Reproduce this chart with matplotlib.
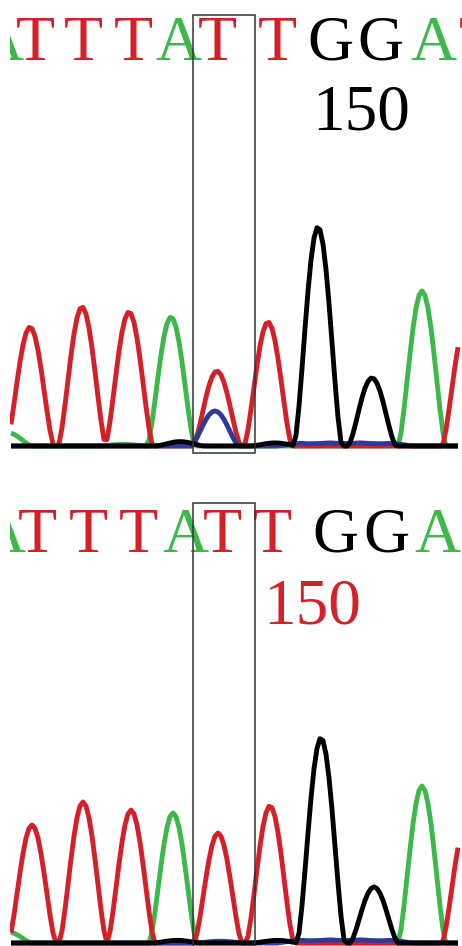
import numpy as np
import matplotlib
matplotlib.use("Agg")
import matplotlib.pyplot as plt
from matplotlib.patches import Rectangle
from matplotlib.transforms import blended_transform_factory

W, H, DPI = 462, 946, 100

RED, GREEN, BLUE, BLACK = "#d42128", "#3cb94a", "#2f3b98", "#000000"
BASE_COLORS = {"A": GREEN, "T": RED, "G": BLACK, "C": BLUE}

# ---------------- data ----------------
bases = ["A", "T", "T", "T", "A", "T", "T", "G", "G", "A", "T"]

# panel 1 (top)
top_call_x = [0, 35, 83, 133, 178, 217, 277, 330, 380, 433, 478]
top_red_x = [30, 82, 129, 217, 268, 466]
top_red_h = [543, 635, 612, 342, 566, 560]
top_green_x = [8, 123, 171, 422]
top_green_h = [60, 8, 589, 708]
top_blue_x = [215, 300, 330, 360, 390]
top_blue_h = [160, 12, 14, 14, 12]
top_black_x = [180, 275, 318, 372]
top_black_h = [20, 14, 1000, 311]
top_pos_label = "150"
top_pos_x = 361
top_pos_color = BLACK

# panel 2 (bottom)
bot_call_x = [2, 37, 88, 138, 185, 222, 272, 335, 386, 437, 480]
bot_red_x = [32, 83, 131, 218, 270, 466]
bot_red_h = [539, 644, 607, 502, 626, 540]
bot_green_x = [8, 173, 278, 422]
bot_green_h = [50, 594, 10, 717]
bot_blue_x = [220, 300, 330, 360, 390]
bot_blue_h = [8, 12, 14, 14, 12]
bot_black_x = [177, 277, 321, 374]
bot_black_h = [12, 12, 936, 256]
bot_pos_label = "150"
bot_pos_x = 312
bot_pos_color = RED

# highlighted base (scan range)
box_x0, box_x1 = 193, 255

# ---------------- drawing ----------------
HALF_W = 24.0
PX_PER_UNIT = 0.219
scan = np.arange(11, 460, 3.0)


def trace(xs, hs):
    y = np.zeros_like(scan)
    for x0, h in zip(xs, hs):
        d = np.abs(scan - x0)
        y += h * np.where(d < HALF_W,
                          np.abs(np.cos(np.pi * d / (2 * HALF_W))) ** 1.5, 0.0)
    return y


fig = plt.figure(figsize=(W / DPI, H / DPI), dpi=DPI)
fig.patch.set_facecolor("white")
serif = "Liberation Serif"


def panel(top_px, bottom_px, base_px, call_x, red, green, blue, black,
          pos_label, pos_x, pos_color, letter_base_px, label_base_px,
          box_top_px, box_bot_px):
    ax = fig.add_axes([10 / W, 1 - bottom_px / H, (W - 10) / W,
                       (bottom_px - top_px) / H])
    ax.set_xlim(10, W)
    y0 = -(bottom_px - base_px) / PX_PER_UNIT
    y1 = y0 + (bottom_px - top_px) / PX_PER_UNIT
    ax.set_ylim(y0, y1)
    ax.axis("off")

    def frac(px):
        return (bottom_px - px) / (bottom_px - top_px)

    tr = blended_transform_factory(ax.transData, ax.transAxes)
    lw = 3.5
    for (xs, hs), c in ((green, GREEN), (red, RED), (blue, BLUE), (black, BLACK)):
        ax.plot(scan, trace(xs, hs), color=c, lw=lw, solid_joinstyle="round",
                solid_capstyle="butt", zorder=2)

    for b, x in zip(bases, call_x):
        ax.text(x, frac(letter_base_px), b, transform=tr, ha="center",
                va="baseline", fontsize=46, family=serif,
                color=BASE_COLORS[b], clip_on=True)
    ax.text(pos_x, frac(label_base_px), pos_label, transform=tr, ha="center",
            va="baseline", fontsize=47, family=serif, color=pos_color)

    ax.add_patch(Rectangle((box_x0, frac(box_bot_px)), box_x1 - box_x0,
                           frac(box_top_px) - frac(box_bot_px), transform=tr,
                           fill=False, ec="#333333", lw=1.1, clip_on=False,
                           zorder=5))
    return ax


panel(0, 470, 446, top_call_x,
      (top_red_x, top_red_h), (top_green_x, top_green_h),
      (top_blue_x, top_blue_h), (top_black_x, top_black_h),
      top_pos_label, top_pos_x, top_pos_color, 60, 130, 15.5, 453)

panel(488, 946, 943, bot_call_x,
      (bot_red_x, bot_red_h), (bot_green_x, bot_green_h),
      (bot_blue_x, bot_blue_h), (bot_black_x, bot_black_h),
      bot_pos_label, bot_pos_x, bot_pos_color, 552, 623, 503, 960)

fig.savefig("out.png", dpi=DPI, facecolor="white")
